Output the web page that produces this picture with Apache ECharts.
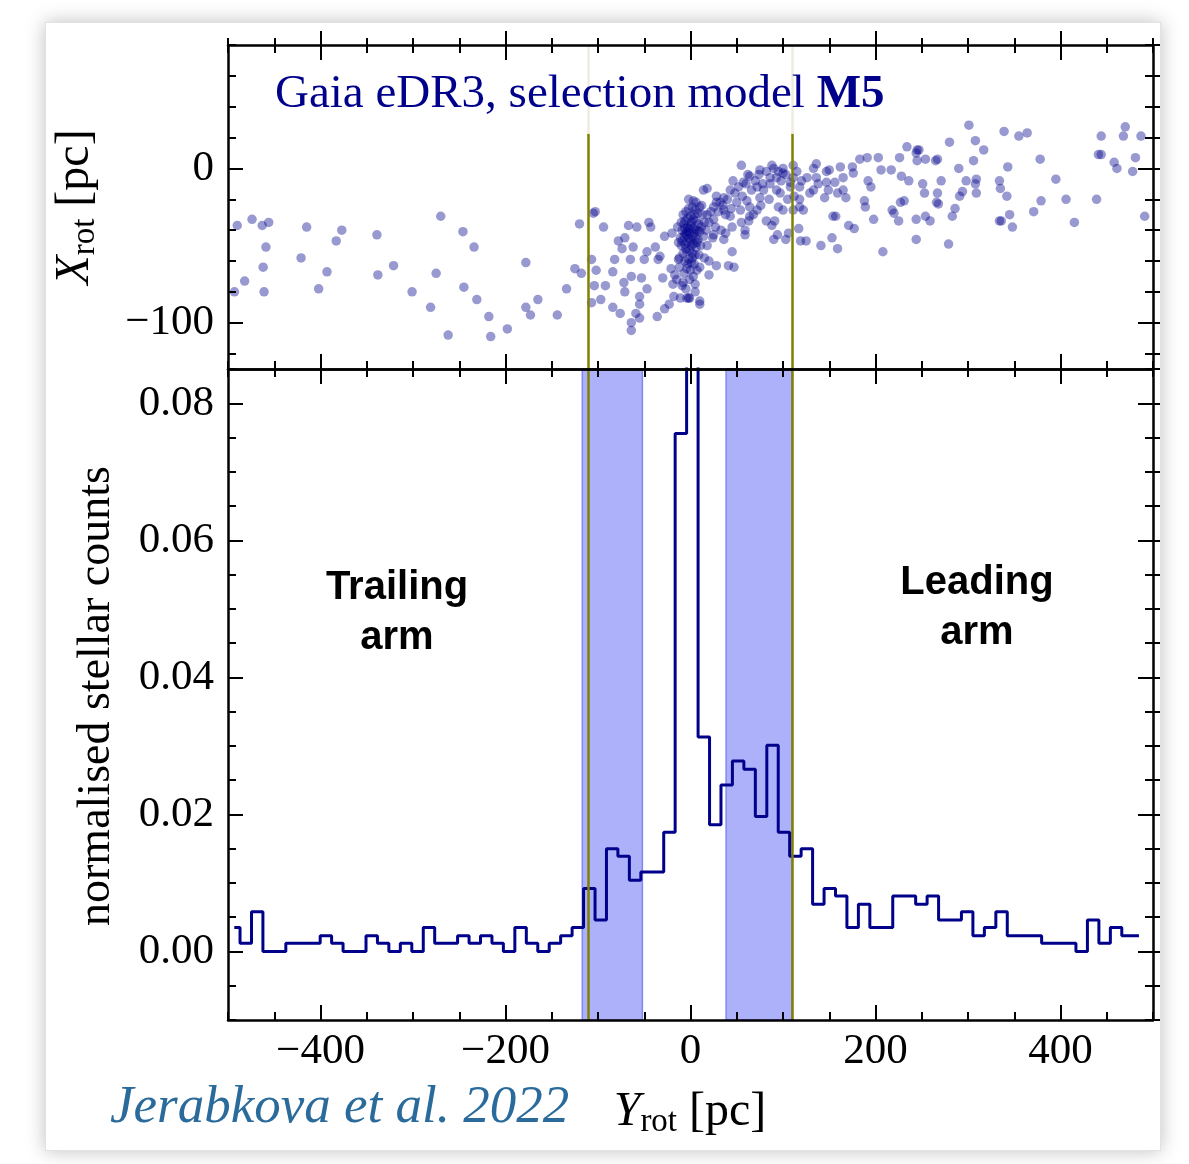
<!DOCTYPE html>
<html><head><meta charset="utf-8">
<script src="https://cdn.jsdelivr.net/npm/echarts@6/dist/echarts.min.js"></script>
<style>
html,body{margin:0;padding:0;background:#fff;}
#frame{position:absolute;left:45px;top:22px;width:1114px;height:1127px;border:1px solid #e2e2e2;box-shadow:0 0 18px rgba(0,0,0,0.25);background:#fff;}
#chart{position:absolute;left:0;top:0;width:1189px;height:1164px;}
</style></head><body>
<div id="frame"></div><div id="chart"></div>
<script>
// ---------- data ----------
// histogram bin centres (Y_rot, pc) and normalised counts
const binCenters = [-493.2,-480.8,-468.4,-456.1,-443.7,-431.3,-418.9,-406.5,-394.2,-381.8,
  -369.4,-357.0,-344.6,-332.3,-319.9,-307.5,-295.1,-282.7,-270.4,-258.0,
  -245.6,-233.2,-220.8,-208.5,-196.1,-183.7,-171.3,-158.9,-146.6,-134.2,
  -121.8,-109.4,-97.0,-84.7,-72.3,-59.9,-47.5,-35.1,-22.8,-10.4,
  2.0,14.4,26.8,39.1,51.5,63.9,76.3,88.7,101.0,113.4,
  125.8,138.2,150.6,162.9,175.3,187.7,200.1,212.5,224.8,237.2,
  249.6,262.0,274.4,286.7,299.1,311.5,323.9,336.3,348.6,361.0,
  373.4,385.8,398.2,410.5,422.9,435.3,447.7,460.1,472.4,484.8];
const histCounts = [0.0035,0.0012,0.0058,0,0,0.0012,0.0012,0.0012,0.0023,0.0012,
  0,0,0.0023,0.0012,0,0.0012,0,0.0035,0.0012,0.0012,
  0.0023,0.0012,0.0023,0.0012,0,0.0035,0.0012,0,0.0012,0.0023,
  0.0035,0.0092,0.0046,0.0150,0.0139,0.0104,0.0116,0.0116,0.0174,0.0756,
  0.0980,0.0313,0.0185,0.0243,0.0278,0.0266,0.0197,0.0301,0.0174,0.0139,
  0.0150,0.0069,0.0092,0.0081,0.0035,0.0069,0.0035,0.0035,0.0081,0.0081,
  0.0069,0.0081,0.0046,0.0046,0.0058,0.0023,0.0035,0.0058,0.0023,0.0023,
  0.0023,0.0012,0.0012,0.0012,0,0.0046,0.0012,0.0035,0.0023,0.0023];
// shaded tidal-arm windows and tidal-radius markers (pc)
const armBands = [[-117,-52],[38.5,109.5]];
const tidalLines = [-111,109.5];
// X_rot where the label box (drawn over the upper part of the tidal lines) begins
const labelBoxBottom = 22.5;
// stars: [Y_rot, X_rot] in pc
const starsYrotXrot = [
 [-490,-37],[-474,-33],[-463,-37],[-456,-35],[-493,-80],[-482,-73],[-461,-80],[-462,-64],[-459,-51],[-415,-38],
 [-421,-58],[-402,-78],[-393,-67],[-383,-47],[-377,-40],[-339,-43],[-338,-69],[-321,-63],[-301,-80],[-281,-90],
 [-275,-68],[-270,-31],[-262,-108],[-246,-41],[-245,-77],[-234,-51],[-231,-85],[-218,-96],[-216,-109],[-198,-104],
 [-178,-61],[-178,-90],[-173,-95],[-165,-85],[-144,-95],[-134,-78],[-125,-65],[-120,-36],[-118,-68],[-105,-29],
 [-103,-28],[-107,-59],[-102,-66],[-104,-76],[-107,-87],[-97,-85],[-94,-38],[-92,-76],[-84,-67],[-84,-90],
 [-82,-59],[-78,-47],[-76,-94],[-74,-52],[-72,-74],[-71,-80],[-71,-45],[-67,-37],[-65,-59],[-64,-100],
 [-64,-105],[-64,-70],[-62,-51],[-58,-38],[-55,-83],[-55,-88],[-59,-94],[-55,-97],[-53,-71],[-50,-59],
 [-47,-54],[-47,-78],[-45,-35],[-43,-38],[-38,-51],[-36,-96],[-35,-59],[-33,-57],[-30,-71],[-28,-91],
 [-28,-44],[-23,-88],[-20,-42],[-21,-65],[-19,-75],[-18,-83],[-17,-69],[-13,-59],[-11,-84],[-9,-76],
 [-4,-84],[-1,-84],
 [-8,-74],[5,-80],[-2,-84],[10,-86],[10,-88],[20,-69],[28,-63],[41,-63],[47,-64],[45,-54],
 [59,-43],[59,-40],[63,-34],[38,-42],[25,-43],[90,-46],[94,-43],[103,-46],[106,-42],[117,-39],
 [119,-47],[125,-47],[141,-50],[153,-45],[159,-52],[171,-37],[177,-39],[154,-31],[157,-31],[189,-25],
 [188,-21],[198,-33],[208,-54],[218,-27],[220,-29],[225,-34],[227,-22],[231,-21],[244,-33],[244,-46],
 [254,-31],[259,-34],[253,-16],[266,-22],[268,-23],[267,-16],[271,-8],[279,-49],[283,-31],[286,-26],
 [291,-18],[294,-15],[298,-8],[309,-7],[308,-10],[309,-16],[306,5],[290,0],[280,17],[301,28],
 [308,18],[317,12],[334,-8],[335,-13],[342,-18],[334,-34],[336,-34],[345,-30],[348,-38],[343,1],
 [339,24],[355,21],[364,23],[378,6],[371,-28],[379,-21],[395,-7],[406,-20],[415,-35],[439,-20],
 [441,9],[444,9],[444,21],[458,4],[461,0],[468,21],[470,27],[478,-2],[481,7],[487,21],
 [491,-31],[245,12],[247,12],[244,10],[234,14],[245,5],[254,6],[265,5],[267,6],[226,7],
 [203,7],[183,6],[191,7],[175,1],[206,-1],[217,-1],[228,-5],[236,-8],[251,-10],[192,-8],
 [195,-12],[176,-3],[162,1],[147,-2],[150,-1],[136,3],[133,0],[136,-6],[165,-6],[156,-9],
 [147,-9],[165,-14],[168,-19],[159,-16],[145,-19],[149,-14],[133,-14],[129,-16],[138,-10],[126,-6],
 [118,-12],[111,-6],[100,0],[88,2],[111,2],[93,-14],[97,-16],[118,-25],[122,-27],[111,-27],
 [95,-25],[100,-27],[91,-34],[88,-37],[82,-34],[72,-27],[64,-25],[75,-19],[55,2],[75,-1],
 [64,-5],[57,-9],[46,-8],[43,-14],[36,-19],[28,-22],[18,-13],[14,-14],[25,-25],[10,-25],
 [3,-21],[36,-27],[43,-31],[54,-27],[64,-31],[61,-21],[72,-12],[79,-14],[86,-10],[93,-6],
 [100,-3],[108,-9],
 [-8,-30],[-5,-28],[-2,-26],[2,-25],[5,-27],[8,-29],[-10,-35],[-6,-34],[-3,-32],[0,-31],
 [3,-33],[6,-34],[9,-36],[-9,-40],[-6,-39],[-3,-38],[0,-37],[3,-39],[6,-40],[10,-41],
 [-11,-45],[-7,-44],[-4,-43],[-1,-42],[2,-44],[5,-45],[8,-46],[-10,-50],[-6,-49],[-3,-48],
 [0,-47],[3,-49],[6,-51],[-8,-55],[-4,-54],[-1,-53],[2,-55],[5,-56],[-6,-60],[-2,-59],
 [1,-61],[4,-62],[-4,-65],[0,-66],[-12,-58],[-13,-48],[12,-38],[13,-30],[-14,-38],[11,-50],
 [9,-56],[-7,-68],[3,-70],[-1,-72],[7,-66],[-12,-64],[14,-44],[15,-35],[-2,-20],[6,-22],
 [12,-24],[18,-30],[20,-35],[17,-40],[22,-28],[25,-33],[28,-18],[32,-22],[30,-28],[35,-24],
 [38,-30],[27,-38],[24,-45],[33,-40],[40,-20],[44,-26],[48,-16],[50,-22],[52,-12],[56,-18],
 [60,-10],[62,-4],[66,-14],[70,-8],[74,-4],[78,-10],[82,-2],[86,-6],[90,0],[95,-2],
 [98,-8],[103,-4],[108,-12],[112,-18],[115,-2],[120,-8],[118,-20],[105,-20],[85,-20],[76,-24],
 [68,-30],[55,-35],[45,-38],[36,-46],[18,-50],[15,-58],[20,-60],[10,-64],[-15,-72],[-5,-78],
 [5,-75],[-7,-36],[-4,-41],[1,-35],[4,-42],[-2,-45],[1,-50],[-5,-52],[7,-48],[-9,-47],
 [2,-58],[-3,-62],[-1,-39],[4,-30],[-6,-42],[8,-40]
];
// tick values
const xMajorTicks = [-400,-200,0,200,400];
const topYMajorTicks = [-100,0];
const topYMinorTicks = [-120,-100,-80,-60,-40,-20,0,20,40,60,80];
const botYMajorTicks = [0,0.02,0.04,0.06,0.08];
const topYRange = [-130, 80];
const botYRange = [-0.01, 0.085];

// ---------- styling helpers ----------
const SERIF = 'Liberation Serif';
const LINE = {color:'#000', width:2.5};
const TICKW = {color:'#000', width:2};
const lab = {fontFamily:SERIF, fontSize:43, color:'#000'};
const minus = v => String(v).replace('-', '\u2212');

function xAx(grid, pos, o) {
  const a = {type:'value', gridIndex:grid, position:pos, min:-500, max:500, z:10,
    axisLine:{show:!!o.line, onZero:false, lineStyle:LINE},
    axisTick:{show:true, inside:o.inside !== false, length:o.len, lineStyle:TICKW},
    axisLabel:{show:false}, splitLine:{show:false}};
  if (o.major) a.axisTick.customValues = xMajorTicks; else a.interval = 50;
  if (o.labels) a.axisLabel = Object.assign({show:true, margin:10, customValues:xMajorTicks, formatter:minus}, lab);
  return a;
}
function yAx(grid, pos, o) {
  const top = grid === 0;
  const a = {type:'value', gridIndex:grid, position:pos, z:10,
    min: top ? topYRange[0] : botYRange[0], max: top ? topYRange[1] : botYRange[1],
    axisLine:{show:!!o.line, onZero:false, lineStyle:LINE},
    axisTick:{show:true, inside:o.inside !== false, length:o.len, lineStyle:TICKW},
    axisLabel:{show:false}, splitLine:{show:false}};
  if (top) {
    a.axisTick.customValues = o.major ? topYMajorTicks : topYMinorTicks;
  } else {
    if (o.major) a.axisTick.customValues = botYMajorTicks; else a.interval = 0.005;
  }
  if (o.labels) a.axisLabel = Object.assign({show:true, margin:14,
     customValues: top ? topYMajorTicks : botYMajorTicks,
     formatter: top ? minus : (v => v.toFixed(2))}, lab);
  return a;
}

const xAxis = [
  xAx(0,'bottom',{line:true, major:true, len:15}),          //0
  xAx(0,'bottom',{major:false, len:8}),                      //1
  xAx(0,'top',{line:true, major:true, len:15}),             //2
  xAx(0,'top',{major:false, len:8}),                         //3
  xAx(0,'top',{major:true, len:14, inside:false}),           //4
  xAx(0,'top',{major:false, len:7, inside:false}),           //5
  xAx(1,'bottom',{line:true, major:true, len:15, labels:true}), //6
  xAx(1,'bottom',{major:false, len:8}),                      //7
  xAx(1,'top',{line:true, major:true, len:15}),             //8
  xAx(1,'top',{major:false, len:8})                          //9
];
const yAxis = [
  yAx(0,'left',{line:true, major:true, len:15, labels:true}), //0
  yAx(0,'left',{major:false, len:8}),                          //1
  yAx(0,'right',{line:true, major:true, len:15}),             //2
  yAx(0,'right',{major:false, len:8}),                         //3
  yAx(0,'right',{major:false, len:7, inside:false}),           //4
  yAx(1,'left',{line:true, major:true, len:15, labels:true}), //5
  yAx(1,'left',{major:false, len:8}),                          //6
  yAx(1,'right',{line:true, major:true, len:15}),             //7
  yAx(1,'right',{major:false, len:8}),                         //8
  yAx(1,'right',{major:false, len:7, inside:false})            //9
];

const olive = {color:'#808000', width:2.5, type:'solid'};
const oliveFaded = {color:'#ecece0', width:2.5, type:'solid'};
// top panel: solid below the label box, faded behind it
const topVLines = [];
tidalLines.forEach(v => {
  topVLines.push([{coord:[v, topYRange[0]], lineStyle:olive}, {coord:[v, labelBoxBottom]}]);
  topVLines.push([{coord:[v, labelBoxBottom], lineStyle:oliveFaded}, {coord:[v, topYRange[1]]}]);
});
const botVLines = tidalLines.map(v => ({xAxis:v}));

const serifRich = size => ({
  i:{fontFamily:SERIF, fontStyle:'italic', fontSize:size, lineHeight:size+6, fill:'#000'},
  s:{fontFamily:SERIF, fontSize:Math.round(size*0.68), lineHeight:Math.round(size*0.68), verticalAlign:'bottom', fill:'#000'},
  n:{fontFamily:SERIF, fontSize:size, lineHeight:size+6, fill:'#000'}
});

const option = {
  animation:false,
  grid:[
    {left:228, top:45, width:925, height:324},
    {left:228, top:369, width:925, height:651}
  ],
  xAxis, yAxis,
  series:[
    {type:'line', xAxisIndex:0, yAxisIndex:0, z:1, data:[],
     markLine:{silent:true, symbol:'none', label:{show:false}, lineStyle:olive, data:topVLines}},
    {type:'scatter', xAxisIndex:0, yAxisIndex:0, z:2,
     data: starsYrotXrot, symbolSize:9.5,
     itemStyle:{color:'rgba(0,0,139,0.5)'}},
    {type:'line', xAxisIndex:6, yAxisIndex:5, z:1, data:[],
     markArea:{silent:true, itemStyle:{color:'#adb1fa', borderColor:'#8088f4', borderWidth:1.5},
       data: armBands.map(b => [{xAxis:b[0]},{xAxis:b[1]}])}},
    {type:'line', xAxisIndex:6, yAxisIndex:5, z:3, step:'middle', showSymbol:false, clip:true,
     data: binCenters.map((c,i) => [c, histCounts[i]]),
     lineStyle:{color:'#00008b', width:3}},
    {type:'line', xAxisIndex:6, yAxisIndex:5, z:4, data:[],
     markLine:{silent:true, symbol:'none', label:{show:false}, lineStyle:olive, data:botVLines}}
  ],
  graphic:[
    {type:'text', z:12, x:275, y:95, style:{
      text:'{n|Gaia eDR3, selection model }{b|M5}', verticalAlign:'middle',
      rich:{n:{fontFamily:SERIF, fontSize:47, fill:'#00008b'},
            b:{fontFamily:SERIF, fontSize:47, fontWeight:'bold', fill:'#00008b'}}}},
    {type:'text', z:12, x:397, y:613, style:{text:'Trailing\narm', fontFamily:'Liberation Sans', fontWeight:'bold',
      fontSize:40, lineHeight:50, fill:'#000', align:'center', verticalAlign:'middle'}},
    {type:'text', z:12, x:977, y:608, style:{text:'Leading\narm', fontFamily:'Liberation Sans', fontWeight:'bold',
      fontSize:40, lineHeight:50, fill:'#000', align:'center', verticalAlign:'middle'}},
    {type:'text', z:12, x:110, y:1108, style:{text:'Jerabkova et al. 2022', fontFamily:SERIF, fontStyle:'italic',
      fontSize:53, fill:'#2a6b9c', align:'left', verticalAlign:'middle'}},
    {type:'text', z:12, x:690, y:1112, style:{text:'{i|Y}{s|rot}{n| [pc]}', align:'center', verticalAlign:'middle',
      rich:serifRich(48)}},
    {type:'text', z:12, x:97, y:696, rotation:Math.PI/2, style:{text:'normalised stellar counts',
      fontFamily:SERIF, fontSize:46, fill:'#000', align:'center', verticalAlign:'middle'}},
    {type:'text', z:12, x:75, y:207, rotation:Math.PI/2, style:{text:'{i|X}{s|rot}{n| [pc]}', align:'center', verticalAlign:'middle',
      rich:serifRich(48)}}
  ]
};
const chart = echarts.init(document.getElementById('chart'), null, {renderer:'canvas'});
chart.setOption(option);
</script>
</body></html>
